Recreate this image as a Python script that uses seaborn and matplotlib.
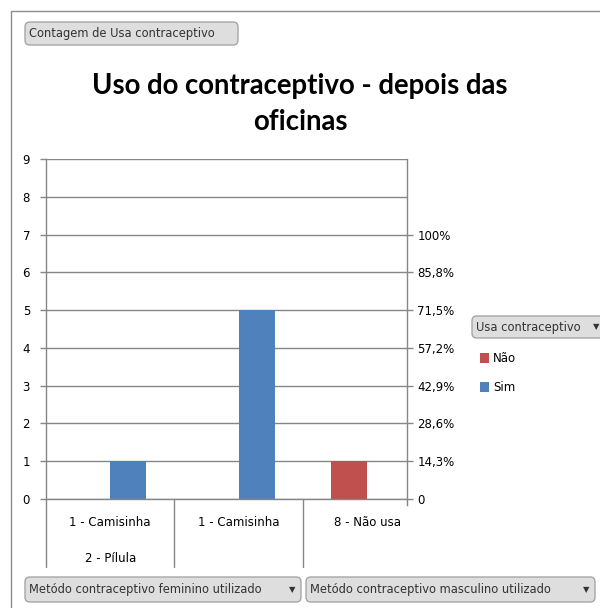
import numpy as np
import pandas as pd
import matplotlib
matplotlib.use("Agg")
import matplotlib.pyplot as plt
import matplotlib.transforms as mtransforms
from matplotlib.patches import Rectangle, Patch, FancyBboxPatch
import seaborn as sns

# Pivot data: count of "Usa contraceptivo" per combination of methods
metodo_feminino = ["2 - Pílula", "", ""]
metodo_masculino = ["1 - Camisinha", "1 - Camisinha", "8 - Não usa"]
uso_series = ["Não", "Sim"]
contagem_nao = [0, 0, 1]
contagem_sim = [1, 5, 0]
pct_labels = ["0", "14,3%", "28,6%", "42,9%", "57,2%", "71,5%", "85,8%", "100%"]
y_ticks = [0, 1, 2, 3, 4, 5, 6, 7, 8, 9]

cores = {"Não": "#C0504D", "Sim": "#4F81BD"}
cinza = "#868686"

chaves = [f"{f}|{m}" for f, m in zip(metodo_feminino, metodo_masculino)]
df = pd.DataFrame({
    "categoria": chaves * 2,
    "uso": ["Não"] * 3 + ["Sim"] * 3,
    "contagem": contagem_nao + contagem_sim,
})

sns.set_theme(style="white")
plt.rcParams["font.family"] = ["DejaVu Sans"]
plt.rcParams["text.color"] = "black"

W, H = 600, 608
fig = plt.figure(figsize=(W / 100, H / 100), dpi=100)

def fx(px):
    return px / W

def fy(py):
    return 1 - py / H

# outer chart frame
fig.patches.append(Rectangle((fx(11), fy(640)), fx(640), 629 / H, transform=fig.transFigure,
                             fill=False, edgecolor="#8c8c8c", linewidth=1.0))

left, right, top, bottom = 46, 407, 159, 499
ax = fig.add_axes([fx(left), fy(bottom), (right - left) / W, (bottom - top) / H])

sns.barplot(data=df, x="categoria", y="contagem", hue="uso", hue_order=uso_series,
            order=chaves, palette=cores, width=0.56, linewidth=0, saturation=1,
            legend=False, ax=ax)

ax.set_ylim(0, 9)
ax.set_xlim(-0.5, 2.31)
ax.set_yticks(y_ticks)
ax.set_yticklabels([str(v) for v in y_ticks])
ax.set_xticks([])
ax.set_xlabel("")
ax.set_ylabel("")
ax.grid(axis="y", color=cinza, linewidth=1.0)
ax.set_axisbelow(True)
for s in ["top", "right"]:
    ax.spines[s].set_visible(False)
for s in ["left", "bottom"]:
    ax.spines[s].set_color(cinza)
    ax.spines[s].set_linewidth(1.0)
ax.tick_params(axis="y", left=True, length=4.5, width=1, color=cinza, pad=7,
               labelsize=8.5, labelcolor="black")

# secondary axis with percentage of total
total = sum(contagem_nao) + sum(contagem_sim)
ax2 = ax.twinx()
ax2.set_ylim(0, 9)
ax2.set_yticks(list(range(total + 1)))
ax2.set_yticklabels(pct_labels)
for s in ["top", "left", "bottom"]:
    ax2.spines[s].set_visible(False)
ax2.spines["right"].set_color(cinza)
ax2.spines["right"].set_linewidth(1.0)
ax2.spines["right"].set_bounds(-0.15, 9)
ax2.tick_params(axis="y", right=True, length=4.5, width=1, color=cinza, pad=3,
                labelsize=8.5, labelcolor="black")
ax2.grid(False)

# multi-level category axis
trans = mtransforms.blended_transform_factory(ax.transData, ax.transAxes)
ax_h = bottom - top

def ay(py):
    return (bottom - py) / ax_h

n = len(chaves)
for i in range(n):
    ax.plot([i - 0.5, i - 0.5], [0, ay(567)], transform=trans, color=cinza,
            linewidth=1.0, clip_on=False)
    ax.text(i, ay(523), metodo_masculino[i], transform=trans, ha="center", va="center",
            fontsize=8.5, color="black")
# outer level spans
grupos = []
for i, f in enumerate(metodo_feminino):
    if grupos and grupos[-1][0] == f:
        grupos[-1][2] = i
    else:
        grupos.append([f, i, i])
for f, a, b in grupos:
    if f:
        ax.text((a + b) / 2, ay(558), f, transform=trans, ha="center", va="center",
                fontsize=8.5, color="black")

# pivot field buttons
def botao(x0, y0, x1, y1, texto, seta=False):
    fig.patches.append(FancyBboxPatch(
        (fx(x0), fy(y1)), fx(x1 - x0), (y1 - y0) / H,
        boxstyle="round,pad=0,rounding_size=0.008", transform=fig.transFigure,
        facecolor="#dedede", edgecolor="#a6a6a6", linewidth=1.0))
    fig.text(fx(x0 + 4), fy((y0 + y1) / 2), texto, ha="left", va="center",
             fontsize=8.3, color="#333333")
    if seta:
        fig.text(fx(x1 - 6), fy((y0 + y1) / 2), "▼", ha="right", va="center",
                 fontsize=6, color="#333333")

botao(25, 22, 238, 45, "Contagem de Usa contraceptivo")
botao(25, 577, 301, 602, "Metódo contraceptivo feminino utilizado", seta=True)
botao(306, 577, 595, 602, "Metódo contraceptivo masculino utilizado", seta=True)
botao(472, 316, 604, 338, "Usa contraceptivo", seta=False)
fig.text(fx(599), fy(327), "▼", ha="right", va="center", fontsize=6, color="#333333")

# legend
handles = [Patch(facecolor=cores[u], edgecolor="none") for u in uso_series]
fig.legend(handles, uso_series, loc="upper left", bbox_to_anchor=(fx(472), fy(344)),
           frameon=False, fontsize=8.5, handlelength=0.7, handleheight=0.9,
           handletextpad=0.4, labelspacing=1.35, borderpad=0.2, labelcolor="black")

# title
fig.text(0.5, fy(104), "Uso do contraceptivo - depois das\noficinas", ha="center",
         va="center", fontsize=19.8, fontweight="bold", family="Lato", linespacing=1.45,
         color="black")

fig.savefig("out.png", dpi=100, facecolor="white")
